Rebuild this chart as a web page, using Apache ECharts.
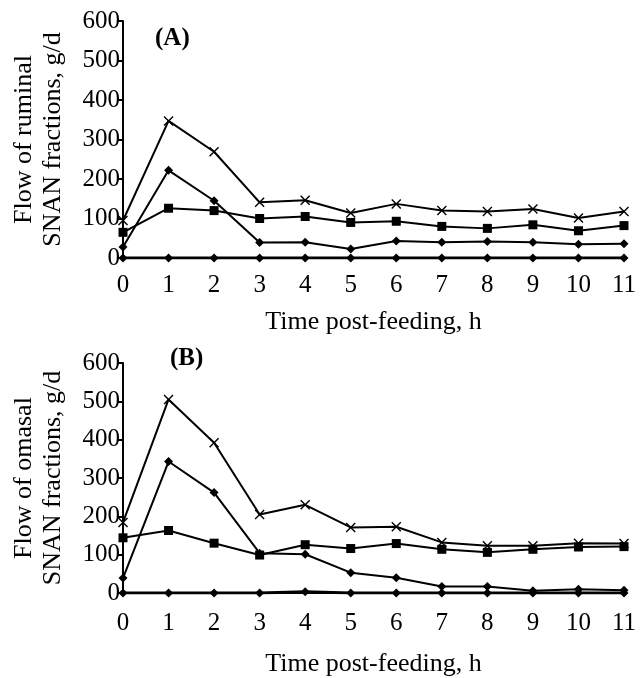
<!DOCTYPE html>
<html><head><meta charset="utf-8">
<script src="https://cdn.jsdelivr.net/npm/echarts@6/dist/echarts.min.js"></script>
<style>html,body{margin:0;padding:0;background:#fff}#c{width:643px;height:678px}</style>
</head><body><div id="c"></div>
<script>
const hours = ['0','1','2','3','4','5','6','7','8','9','10','11'];
const yTicks = [0,100,200,300,400,500,600];
// Panel A: ruminal
const ruminalCross   = [95,347,269,141,146,114,137,120,118,124,101,118];
const ruminalSquare  = [65,126,120,100,105,90,93,80,75,84,69,82];
const ruminalDiamond = [28,222,145,39,40,23,43,40,42,40,35,36];
const ruminalZero    = [0,0,0,0,0,0,0,0,0,0,0,0];
// Panel B: omasal
const omasalCross   = [184,505,392,205,230,171,173,132,123,123,130,129];
const omasalSquare  = [144,163,130,99,126,116,129,114,106,114,120,121];
const omasalDiamond = [39,343,262,104,101,53,40,17,17,6,10,7];
const omasalZero    = [0,0,0,0,3,0,0,0,0,0,0,0];

const FONT = 'Liberation Serif';
const FS = 25;   // tick labels
const TFS = 26;  // axis titles
const crossPath = 'path://M0,1L1,0L5,4L9,0L10,1L6,5L10,9L9,10L5,6L1,10L0,9L4,5Z';

function mk(data, gi, symbol, size, lw){
  return {type:'line', xAxisIndex:gi, yAxisIndex:gi, data:data, symbol:symbol, symbolSize:size,
    showAllSymbol:true, animation:false, silent:true,
    lineStyle:{color:'#000', width:lw}, itemStyle:{color:'#000'}};
}
function xAx(gi, margin, gap){
  return {type:'category', gridIndex:gi, data:hours, boundaryGap:false,
    axisLine:{lineStyle:{color:'#000', width:2}}, axisTick:{show:false},
    axisLabel:{color:'#000', fontFamily:FONT, fontSize:FS, margin:margin},
    name:'Time post-feeding, h', nameLocation:'middle', nameGap:gap,
    nameTextStyle:{color:'#000', fontFamily:FONT, fontSize:TFS}, splitLine:{show:false}};
}
function yAx(gi, title){
  return {type:'value', gridIndex:gi, min:yTicks[0], max:yTicks[yTicks.length-1], interval:100,
    axisLine:{show:true, lineStyle:{color:'#000', width:2}},
    axisTick:{show:true, length:5, lineStyle:{color:'#000', width:2}},
    axisLabel:{color:'#000', fontFamily:FONT, fontSize:FS, margin:3},
    splitLine:{show:false},
    name:title, nameLocation:'middle', nameRotate:90, nameGap:55,
    nameTextStyle:{color:'#000', fontFamily:FONT, fontSize:TFS, lineHeight:29}};
}
const chart = echarts.init(document.getElementById('c'), null, {renderer:'canvas'});
chart.setOption({
  backgroundColor:'#fff',
  grid:[{left:123, right:19, top:21, height:237},{left:123, right:19, top:363, height:238}],
  xAxis:[xAx(0,15,51), xAx(1,18,58)],
  yAxis:[yAx(0,'Flow of ruminal\nSNAN fractions, g/d'), yAx(1,'Flow of omasal\nSNAN fractions, g/d')],
  graphic:[
    {type:'text', left:155, top:26, style:{text:'(A)', font:'bold 25px "Liberation Serif"', fill:'#000'}},
    {type:'text', left:170, top:346, style:{text:'(B)', font:'bold 25px "Liberation Serif"', fill:'#000'}}
  ],
  series:[
    mk(ruminalZero,0,'diamond',9,3),
    mk(ruminalDiamond,0,'diamond',9,2),
    mk(ruminalSquare,0,'rect',9,2),
    mk(ruminalCross,0,crossPath,10,2),
    mk(omasalZero,1,'diamond',9,3),
    mk(omasalDiamond,1,'diamond',9,2),
    mk(omasalSquare,1,'rect',9,2),
    mk(omasalCross,1,crossPath,10,2)
  ]
});
</script></body></html>
